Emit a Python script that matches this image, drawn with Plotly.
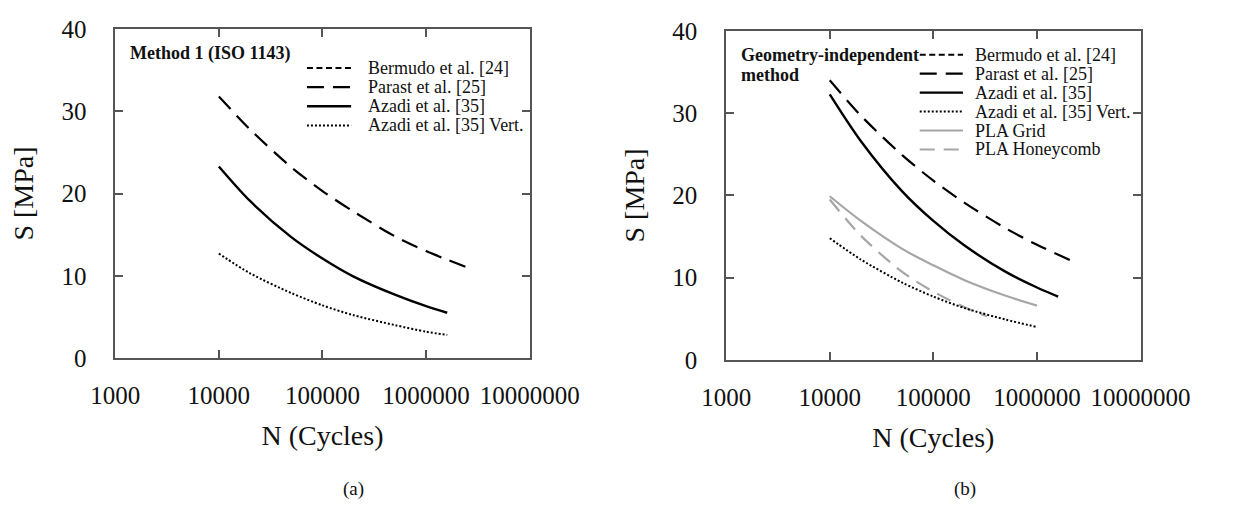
import plotly.graph_objects as go

W, H = 1247, 517
FONT = "Times New Roman"

# ---------------- data ----------------
N_TICKS = [1e3, 1e4, 1e5, 1e6, 1e7]
N_TICK_TEXT = ["1000", "10000", "100000", "1000000", "10000000"]
S_TICKS = [0, 10, 20, 30, 40]

# Panel (a): Method 1 (ISO 1143)
a_bermudo_N = []
a_bermudo_S = []
a_parast_N = [1e4, 2e4, 5e4, 1e5, 2e5, 5e5, 1e6, 2.5e6]
a_parast_S = [31.8, 27.8, 23.2, 20.3, 17.8, 14.8, 13.0, 11.0]
a_azadi_N = [1e4, 2e4, 5e4, 1e5, 2e5, 5e5, 1e6, 1.6e6]
a_azadi_S = [23.3, 19.1, 14.7, 12.1, 9.9, 7.7, 6.3, 5.5]
a_vert_N = [1e4, 2e4, 5e4, 1e5, 2e5, 5e5, 1e6, 1.6e6]
a_vert_S = [12.7, 10.3, 7.9, 6.4, 5.2, 4.0, 3.2, 2.8]

# Panel (b): Geometry-independent method
b_bermudo_N = []
b_bermudo_S = []
b_parast_N = [1e4, 2e4, 5e4, 1e5, 2e5, 5e5, 1e6, 2.5e6]
b_parast_S = [34.0, 29.7, 24.9, 21.8, 19.1, 16.0, 14.0, 11.7]
b_azadi_N = [1e4, 2e4, 5e4, 1e5, 2e5, 5e5, 1e6, 1.6e6]
b_azadi_S = [32.3, 26.6, 20.5, 16.9, 13.9, 10.7, 8.8, 7.7]
b_vert_N = [1e4, 2e4, 5e4, 1e5, 2e5, 5e5, 1e6]
b_vert_S = [14.8, 12.2, 9.4, 7.7, 6.3, 4.9, 4.0]
b_grid_N = [1e4, 2e4, 5e4, 1e5, 2e5, 5e5, 1e6]
b_grid_S = [19.9, 16.9, 13.5, 11.5, 9.7, 7.8, 6.6]
b_honey_N = [1e4, 2e4, 5e4, 1e5, 2e5, 3.3e5]
b_honey_S = [19.5, 15.1, 10.7, 8.3, 6.4, 5.3]

# ---------------- styles ----------------
BLACK = "#000000"
GRAY = "#a6a6a6"
STY = {
    "Bermudo et al. [24]": dict(color=BLACK, width=2, dash="6px,3.5px"),
    "Parast et al. [25]": dict(color=BLACK, width=2.2, dash="17px,9px"),
    "Azadi et al. [35]": dict(color=BLACK, width=2.4, dash="solid"),
    "Azadi et al. [35] Vert.": dict(color=BLACK, width=2, dash="2px,2px"),
    "PLA Grid": dict(color=GRAY, width=2.2, dash="solid"),
    "PLA Honeycomb": dict(color=GRAY, width=2.2, dash="15px,9px"),
}

fig = go.Figure()

def add(name, N, S, xa, ya):
    fig.add_trace(go.Scatter(x=N, y=S, mode="lines", name=name,
                             line=dict(shape="spline", smoothing=0.8, **STY[name]),
                             xaxis=xa, yaxis=ya, showlegend=False))

add("Bermudo et al. [24]", a_bermudo_N, a_bermudo_S, "x", "y")
add("Parast et al. [25]", a_parast_N, a_parast_S, "x", "y")
add("Azadi et al. [35]", a_azadi_N, a_azadi_S, "x", "y")
add("Azadi et al. [35] Vert.", a_vert_N, a_vert_S, "x", "y")

add("PLA Honeycomb", b_honey_N, b_honey_S, "x2", "y2")
add("PLA Grid", b_grid_N, b_grid_S, "x2", "y2")
add("Bermudo et al. [24]", b_bermudo_N, b_bermudo_S, "x2", "y2")
add("Parast et al. [25]", b_parast_N, b_parast_S, "x2", "y2")
add("Azadi et al. [35]", b_azadi_N, b_azadi_S, "x2", "y2")
add("Azadi et al. [35] Vert.", b_vert_N, b_vert_S, "x2", "y2")

def px(x):
    return x / W

def py(y):
    return 1 - y / H

AX_COLOR = "#555555"
TXT = "#111111"
tickfont = dict(family=FONT, size=25, color=TXT)
titlefont = dict(family=FONT, size=28, color=TXT)

def xaxis(dom, anchor):
    return dict(type="log", range=[3, 7], domain=dom, anchor=anchor,
                tickvals=N_TICKS, ticktext=N_TICK_TEXT, ticks="inside", ticklen=8,
                tickwidth=1.5, tickcolor=AX_COLOR, showline=True, linecolor=AX_COLOR,
                linewidth=1.6, mirror="ticks", showgrid=False, zeroline=False,
                tickfont=tickfont, ticklabelstandoff=14,
                title=dict(text="N (Cycles)", font=titlefont, standoff=18))

def yaxis(dom, anchor):
    return dict(range=[0, 40], domain=dom, anchor=anchor, tickvals=S_TICKS,
                ticks="inside", ticklen=8, tickwidth=1.5, tickcolor=AX_COLOR,
                showline=True, linecolor=AX_COLOR, linewidth=1.6, mirror="ticks",
                showgrid=False, zeroline=False, tickfont=tickfont,
                ticklabelstandoff=22,
                title=dict(text="S [MPa]", font=titlefont, standoff=20))

fig.update_layout(
    width=W, height=H, margin=dict(l=0, r=0, t=0, b=0),
    paper_bgcolor="white", plot_bgcolor="white",
    font=dict(family=FONT, color=TXT),
    xaxis=xaxis([px(96), px(537)], "y"),
    yaxis=yaxis([py(364), py(17)], "x"),
    xaxis2=xaxis([px(746), px(1187)], "y2"),
    yaxis2=yaxis([py(366), py(19)], "x2"),
    showlegend=False,
)

annotations = []
shapes = []

def label(text, x, y, size=18, xanchor="left", yanchor="middle", bold=False):
    t = f"<b>{text}</b>" if bold else text
    annotations.append(dict(text=t, x=px(x), y=py(y), xref="paper", yref="paper",
                            xanchor=xanchor, yanchor=yanchor, showarrow=False,
                            font=dict(family=FONT, size=size, color=TXT)))

def legend(entries, x0, x1, xt, y0, dy):
    for i, name in enumerate(entries):
        y = y0 + i * dy
        s = STY[name]
        shapes.append(dict(type="line", xref="paper", yref="paper",
                           x0=px(x0), x1=px(x1), y0=py(y), y1=py(y),
                           line=dict(color=s["color"], width=s["width"], dash=s["dash"])))
        label(name, xt, y)

label("Method 1 (ISO 1143)", 110, 43, bold=True)
legend(["Bermudo et al. [24]", "Parast et al. [25]", "Azadi et al. [35]",
        "Azadi et al. [35] Vert."], 300, 347, 363, 58, 20.2)

label("Geometry-independent", 760, 44, bold=True)
label("method", 760, 65, bold=True)
legend(["Bermudo et al. [24]", "Parast et al. [25]", "Azadi et al. [35]",
        "Azadi et al. [35] Vert.", "PLA Grid", "PLA Honeycomb"],
       952, 998, 1009, 44, 20)

label("(a)", 350, 502, size=19, xanchor="center")
label("(b)", 1000, 502, size=19, xanchor="center")

fig.update_layout(annotations=annotations, shapes=shapes)
fig.write_html("out.html")
